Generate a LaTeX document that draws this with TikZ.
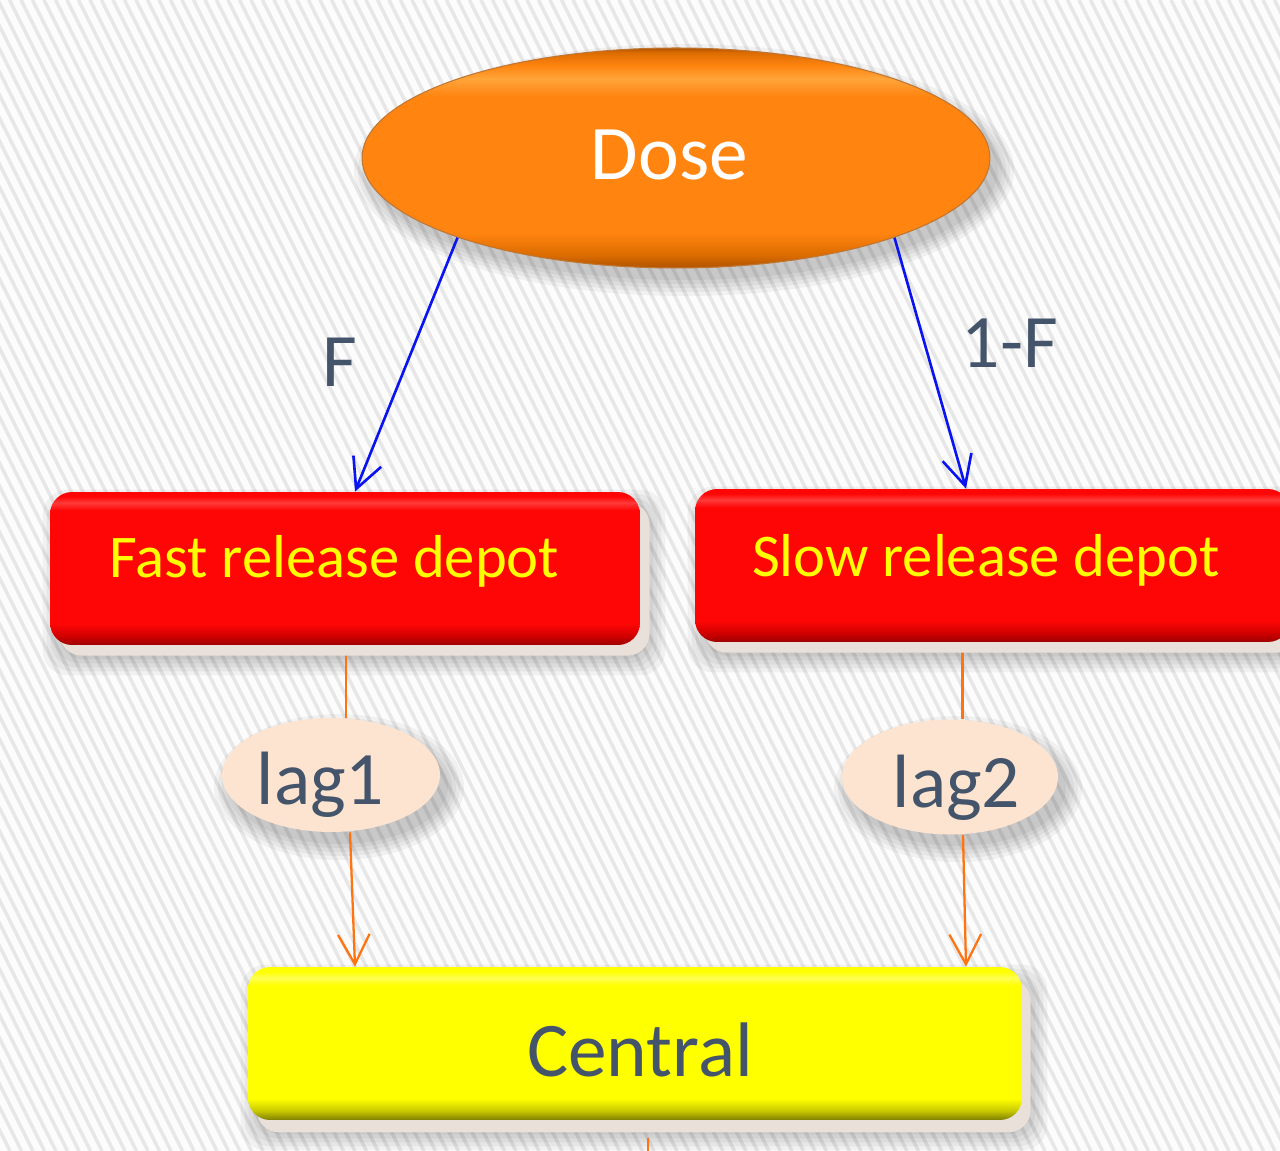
\documentclass[tikz,border=0pt]{standalone}
\usepackage{fontspec}
\setmainfont{Carlito}
\usetikzlibrary{arrows.meta,shapes.geometric,shadows,calc}

% colours
\definecolor{paper}{HTML}{FCFCFC}
\definecolor{stripe}{HTML}{E7E7E7}
\definecolor{slate}{HTML}{44546A}
\definecolor{doseA}{HTML}{FF8410}
\definecolor{doseRim}{HTML}{B05400}
\definecolor{doseMid}{HTML}{DC6C00}
\definecolor{doseHi}{HTML}{FFA53A}
\definecolor{boxRed}{HTML}{FF0606}
\definecolor{boxRedDark}{HTML}{9E0000}
\definecolor{boxRedMid}{HTML}{D00000}
\definecolor{boxRedHi}{HTML}{FF3A3A}
\definecolor{boxYel}{HTML}{FFFF00}
\definecolor{boxYelDark}{HTML}{7E7E00}
\definecolor{boxYelMid}{HTML}{C8C800}
\definecolor{boxYelHi}{HTML}{FFFF55}
\definecolor{lagFill}{HTML}{FCE4D0}
\definecolor{plinth}{HTML}{E9E0D9}
\definecolor{linkBlue}{HTML}{0A14F0}
\definecolor{linkOrange}{HTML}{FF7410}
\definecolor{depotText}{HTML}{FFFF00}

% bevel shadings (the 25bp..75bp band is fitted to the shape)
\pgfdeclareverticalshading{redbevel}{100bp}{color(0bp)=(boxRedDark); color(25bp)=(boxRedDark); color(28bp)=(boxRedMid); color(32bp)=(boxRed); color(69bp)=(boxRed); color(71.5bp)=(boxRedHi); color(73.5bp)=(boxRed); color(100bp)=(boxRed)}
\pgfdeclareverticalshading{yellowbevel}{100bp}{color(0bp)=(boxYelDark); color(25bp)=(boxYelDark); color(28bp)=(boxYelMid); color(32bp)=(boxYel); color(69bp)=(boxYel); color(71.5bp)=(boxYelHi); color(73.5bp)=(boxYel); color(100bp)=(boxYel)}
\pgfdeclareverticalshading{dosebevel}{100bp}{color(0bp)=(doseRim); color(25bp)=(doseRim); color(28bp)=(doseMid); color(33bp)=(doseA); color(64bp)=(doseA); color(68bp)=(doseHi); color(71bp)=(doseA); color(74bp)=(doseMid); color(75bp)=(doseRim); color(100bp)=(doseRim)}

\pgfdeclarelayer{stripes}
\pgfdeclarelayer{shade}
\pgfdeclarelayer{links}
\pgfsetlayers{stripes,shade,links,main}

% soft drop shadows built from stacked translucent copies
\newcommand\boxhalo[1]{%
  \foreach \g in {0,4,8,12,16}
    \fill[black, opacity=0.045, rounded corners=0.5cm]
      ($(#1.south west)+(9-\g,14+\g)$) rectangle ($(#1.north east)+(9+\g,14-\g)$);}
\newcommand\ovalhalo[3]{%
  \foreach \g in {0,4,8,12,16}
    \fill[black, opacity=0.045]
      ($(#1.center)+(8,12)$) ellipse [x radius=#2+\g, y radius=#3+\g];}
% text placed on its baseline, shifted from the node centre
\newcommand\setline[3]{\hspace*{#1}\raisebox{#2}[0pt][0pt]{#3}}

\tikzset{
  depotbox/.style={rectangle, rounded corners=0.44cm, draw=none,
      shading=redbevel,
      copy shadow={shadow xshift=5.5pt, shadow yshift=-6pt, fill=plinth, draw=none},
      minimum height=3.06cm, text=depotText,
      font=\fontsize{34.5}{40}\selectfont},
  centralbox/.style={rectangle, rounded corners=0.44cm, draw=none,
      shading=yellowbevel,
      copy shadow={shadow xshift=5pt, shadow yshift=-7pt, fill=plinth, draw=none},
      minimum height=3.06cm, text=slate,
      font=\fontsize{44}{50}\selectfont},
  dosenode/.style={ellipse, inner sep=0pt, draw=doseRim!80, line width=0.6pt,
      shading=dosebevel, text=white,
      font=\fontsize{44}{52}\selectfont},
  lagnode/.style={ellipse, inner sep=0pt, fill=lagFill, draw=none,
      text=slate, font=\fontsize{43}{50}\selectfont},
  splitlink/.style={draw=linkBlue, line width=1.5pt,
      -{Straight Barb[length=17pt,width=17pt,line width=1.5pt]}},
  lagline/.style={draw=linkOrange, line width=1.3pt},
  lagarrow/.style={lagline,
      -{Straight Barb[length=17pt,width=18pt,line width=1.3pt]}},
  fraction/.style={text=slate, font=\fontsize{43}{50}\selectfont}
}

\begin{document}
\begin{tikzpicture}[x=0.02cm, y=-0.02cm]
  \useasboundingbox (0,0) rectangle (1280,1151);

  % striped paper
  \begin{pgfonlayer}{stripes}
    \fill[paper] (0,0) rectangle (1280,1151);
    \begin{scope}
      \clip (0,0) rectangle (1280,1151);
      \foreach \s in {-600,-588.5,...,1290}
        \draw[stripe, line width=2pt] (\s,0) -- ++(575.5,1151);
    \end{scope}
  \end{pgfonlayer}

  % compartments
  \node[dosenode, minimum width=12.56cm, minimum height=4.4cm] (dose) at (676,158) {\setline{-7.4pt}{-12pt}{Dose}};
  \node[depotbox, minimum width=11.8cm] (fast) at (345,568.5) {\setline{-12pt}{-5.4pt}{Fast release depot}};
  \node[depotbox, minimum width=11.9cm] (slow) at (992.5,565.5) {\setline{-7.4pt}{-6pt}{Slow release depot}};
  \node[lagnode, minimum width=4.36cm, minimum height=2.28cm] (lag1) at (331,775) {\setline{-12pt}{-17pt}{lag1}};
  \node[lagnode, minimum width=4.32cm, minimum height=2.3cm] (lag2) at (950,777) {\setline{7.5pt}{-17.6pt}{lag2}};
  \node[centralbox, minimum width=15.48cm] (central) at (635,1043.5) {\setline{5.6pt}{-18.5pt}{Central}};

  % fractions on the split
  \node[fraction] (fF) at (340,362) {F};
  \node[fraction] (fG) at (1010,343) {1-F};

  % shadows
  \begin{pgfonlayer}{shade}
    \ovalhalo{dose}{314}{110}
    \ovalhalo{lag1}{109}{57}
    \ovalhalo{lag2}{108}{57}
    \boxhalo{fast}
    \boxhalo{slow}
    \boxhalo{central}
  \end{pgfonlayer}

  % connectors
  \begin{pgfonlayer}{links}
    \draw[splitlink] (dose.200) -- ($(fast.north)+(10,0)$);
    \draw[splitlink] (dose.340) -- ($(slow.north)+(-26.5,0)$);

    \coordinate (fastout) at ($(fast.south)+(1,8)$);
    \draw[lagline] (fastout) -- (fastout |- lag1.north);
    \draw[lagarrow] ($(lag1.south)+(19,0)$) -- ($(central.north)+(-280,0)$);

    \coordinate (slowout) at ($(slow.south)+(-30,8)$);
    \draw[lagline] (slowout) -- (slowout |- lag2.north);
    \draw[lagarrow] ($(lag2.south)+(13,0)$) -- ($(central.north)+(331,0)$);

    \coordinate (centralout) at ($(central.south)+(13,18)$);
    \coordinate (drain) at (648,1165);
    \draw[lagline] (centralout) -- (drain);
  \end{pgfonlayer}
\end{tikzpicture}
\end{document}
